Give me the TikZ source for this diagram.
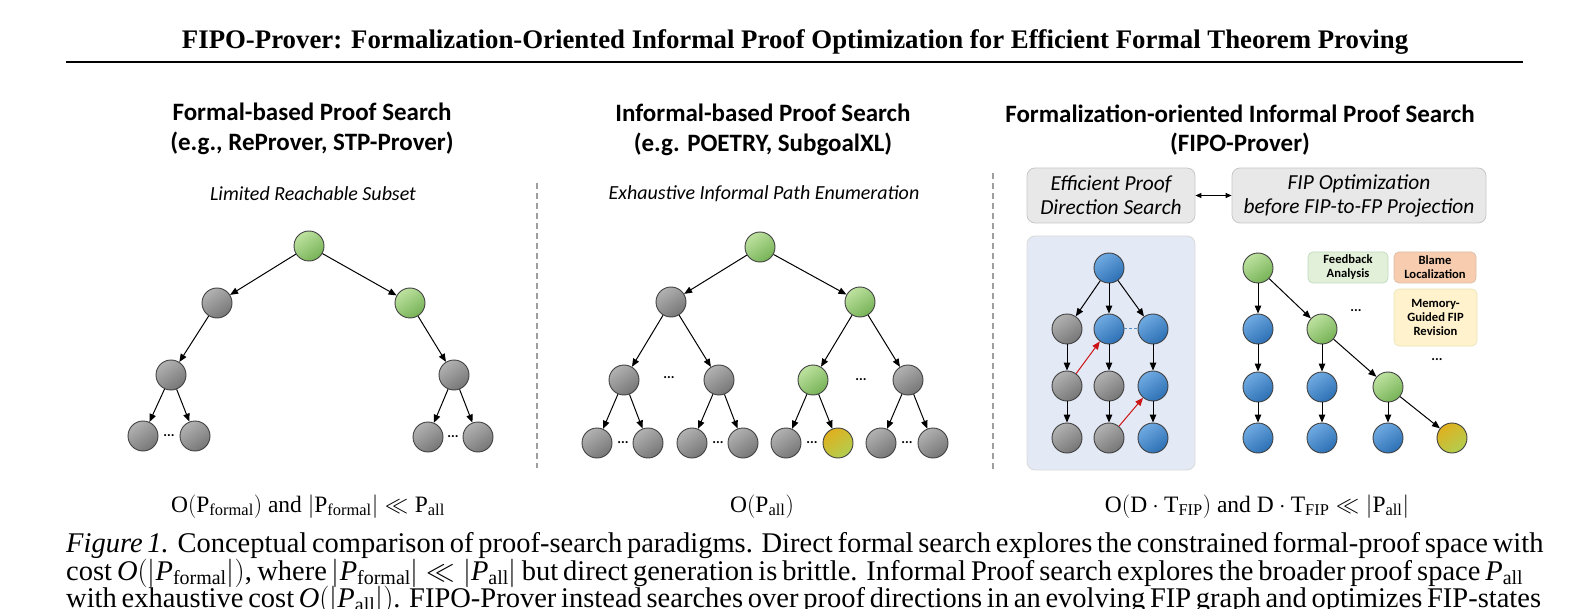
\RequirePackage{fix-cm}
\documentclass[tikz,border=0pt]{standalone}
\usepackage{fontspec}
\setmainfont{Liberation Serif}
\newfontfamily\calibri{Carlito}
\usetikzlibrary{arrows.meta,positioning,calc}
\definecolor{graytop}{RGB}{178,178,178}
\definecolor{graybot}{RGB}{118,118,118}
\definecolor{greentop}{RGB}{190,226,160}
\definecolor{greenbot}{RGB}{118,178,86}
\definecolor{bluetop}{RGB}{112,170,226}
\definecolor{bluebot}{RGB}{44,112,180}
\definecolor{goldtop}{RGB}{224,176,30}
\definecolor{goldbot}{RGB}{178,206,80}
\definecolor{panelblue}{RGB}{228,233,246}
\definecolor{boxgray}{RGB}{232,232,232}
\definecolor{feedgreen}{RGB}{226,240,218}
\definecolor{blameorange}{RGB}{248,204,174}
\definecolor{memoryyellow}{RGB}{255,242,204}
\definecolor{redarrow}{RGB}{204,20,20}

\begin{document}
\begin{tikzpicture}[x=1pt,y=-1pt,
    state/.style={circle,minimum size=30pt,inner sep=0pt,draw=black!75,line width=0.9pt,shading angle=35},
    graystate/.style={state,top color=graytop,bottom color=graybot,shading angle=35},
    greenstate/.style={state,top color=greentop,bottom color=greenbot,shading angle=35},
    bluestate/.style={state,top color=bluetop,bottom color=bluebot,shading angle=35},
    goldstate/.style={state,top color=goldtop,bottom color=goldbot,shading angle=35},
    edge/.style={-{Triangle[length=8pt,width=6.5pt]},line width=1pt,black},
    jump/.style={-{Triangle[length=8pt,width=6.5pt]},line width=1pt,redarrow},
    dots/.style={font=\calibri\bfseries\fontsize{14}{14}\selectfont,inner sep=0pt},
    paneltitle/.style={font=\calibri\bfseries\fontsize{25}{29.5}\selectfont,align=center},
    panelnote/.style={font=\calibri\itshape\fontsize{20}{20}\selectfont},
    headbox/.style={draw=black!22,fill=boxgray,rounded corners=8pt,line width=0.8pt,
      align=center,font=\calibri\itshape\fontsize{21.4}{24}\selectfont,inner sep=0pt},
    tagbox/.style={rounded corners=5pt,line width=0.7pt,align=center,
      font=\calibri\bfseries\fontsize{12.6}{14}\selectfont,inner sep=0pt},
    cost/.style={font=\fontsize{23.5}{26}\selectfont,anchor=base},
    capline/.style={anchor=base west,inner sep=0pt,font=\fontsize{28.5}{28}\selectfont},
    separator/.style={gray!75,line width=1.6pt,dash pattern=on 6pt off 4pt}
  ]
  \useasboundingbox (0,0) rectangle (1581,609);

  % Running title
  \node[font=\bfseries\fontsize{26.8}{30}\selectfont] (runtitle) at (795,42)
    {FIPO-Prover: Formalization-Oriented Informal Proof Optimization for Efficient Formal Theorem Proving};
  \draw[line width=2.5pt] (66,62) -- (1523,62);

  % Panel titles
  \node[paneltitle] (ftitle) at (312,129) {Formal-based Proof Search\\(e.g., ReProver, STP-Prover)};
  \node[paneltitle] (ititle) at (763,130) {Informal-based Proof Search\\(e.g. POETRY, SubgoalXL)};
  \node[paneltitle] (ptitle) at (1240,130) {Formalization-oriented Informal Proof Search\\(FIPO-Prover)};
  \node[panelnote] (fnote) at (313,194) {Limited Reachable Subset};
  \node[panelnote] (inote) at (764,194) {Exhaustive Informal Path Enumeration};

  % Separators
  \draw[separator] (537,183) -- (537,468);
  \draw[separator] (993,173) -- (993,470);

  % Formal-based tree
  \node[greenstate] (fa)  at (309,246) {};
  \node[graystate]  (fb1) at (217,303) {};
  \node[greenstate] (fb2) at (410,303) {};
  \node[graystate]  (fc1) at (171,375) {};
  \node[graystate]  (fc2) at (454,375) {};
  \node[graystate]  (fd1) at (143,436) {};
  \node[graystate]  (fd2) at (195,436) {};
  \node[graystate]  (fd3) at (428,437) {};
  \node[graystate]  (fd4) at (478,437) {};
  \node[dots] (fdots1) at (169,436) {...};
  \node[dots] (fdots2) at (453,437) {...};
  \draw[edge] (fa) -- (fb1);
  \draw[edge] (fa) -- (fb2);
  \draw[edge] (fb1) -- (fc1);
  \draw[edge] (fb2) -- (fc2);
  \draw[edge] (fc1) -- (fd1);
  \draw[edge] (fc1) -- (fd2);
  \draw[edge] (fc2) -- (fd3);
  \draw[edge] (fc2) -- (fd4);

  % Informal-based tree
  \node[greenstate] (ia)  at (760,247) {};
  \node[graystate]  (ib1) at (671,302) {};
  \node[greenstate] (ib2) at (860,302) {};
  \node[graystate]  (ic1) at (624,380) {};
  \node[graystate]  (ic2) at (719,380) {};
  \node[greenstate] (ic3) at (813,380) {};
  \node[graystate]  (ic4) at (908,380) {};
  \node[graystate]  (id1) at (597,443) {};
  \node[graystate]  (id2) at (648,443) {};
  \node[graystate]  (id3) at (692,443) {};
  \node[graystate]  (id4) at (743,443) {};
  \node[graystate]  (id5) at (786,443) {};
  \node[goldstate]  (id6) at (838,443) {};
  \node[graystate]  (id7) at (881,443) {};
  \node[graystate]  (id8) at (933,443) {};
  \node[dots] (idots1) at (669,378) {...};
  \node[dots] (idots2) at (861,380) {...};
  \node[dots] (idots3) at (623,443) {...};
  \node[dots] (idots4) at (718,443) {...};
  \node[dots] (idots5) at (812,443) {...};
  \node[dots] (idots6) at (907,443) {...};
  \draw[edge] (ia) -- (ib1);
  \draw[edge] (ia) -- (ib2);
  \draw[edge] (ib1) -- (ic1);
  \draw[edge] (ib1) -- (ic2);
  \draw[edge] (ib2) -- (ic3);
  \draw[edge] (ib2) -- (ic4);
  \draw[edge] (ic1) -- (id1);
  \draw[edge] (ic1) -- (id2);
  \draw[edge] (ic2) -- (id3);
  \draw[edge] (ic2) -- (id4);
  \draw[edge] (ic3) -- (id5);
  \draw[edge] (ic3) -- (id6);
  \draw[edge] (ic4) -- (id7);
  \draw[edge] (ic4) -- (id8);

  % FIPO-Prover: head boxes
  \node[headbox,minimum width=168pt,minimum height=55pt] (dirbox) at (1111,195.5)
    {Efficient Proof\\Direction Search};
  \node[headbox,minimum width=254pt,minimum height=55pt] (optbox) at (1359,195.5)
    {FIP Optimization\\before FIP-to-FP Projection};
  \draw[{Triangle[length=6pt,width=5pt]}-{Triangle[length=6pt,width=5pt]},line width=1pt]
    (dirbox) -- (optbox);

  % Direction search panel
  \node[draw=black!15,fill=panelblue,rounded corners=8pt,line width=0.8pt,
    minimum width=168pt,minimum height=234pt] (dirpanel) at (1111,353) {};
  \node[bluestate] (pa)  at (1109,268) {};
  \node[graystate] (pb1) at (1067,329) {};
  \node[bluestate] (pb2) at (1109,329) {};
  \node[bluestate] (pb3) at (1153,329) {};
  \node[graystate] (pc1) at (1067,386) {};
  \node[graystate] (pc2) at (1109,386) {};
  \node[bluestate] (pc3) at (1153,386) {};
  \node[graystate] (pd1) at (1067,438) {};
  \node[graystate] (pd2) at (1109,438) {};
  \node[bluestate] (pd3) at (1153,438) {};
  \draw[edge] (pa) -- (pb1);
  \draw[edge] (pa) -- (pb2);
  \draw[edge] (pa) -- (pb3);
  \draw[edge] (pb1) -- (pc1);
  \draw[edge] (pc1) -- (pd1);
  \draw[edge] (pb2) -- (pc2);
  \draw[edge] (pc2) -- (pd2);
  \draw[edge] (pb3) -- (pc3);
  \draw[edge] (pc3) -- (pd3);
  \draw[bluebot!80,line width=1pt,dash pattern=on 3pt off 2pt] (pb2) -- (pb3);
  \draw[jump] (pc1) -- (pb2);
  \draw[jump] (pd2) -- (pc3);

  % FIP optimization tree
  \node[greenstate] (qa)  at (1258,268) {};
  \node[bluestate]  (qb1) at (1258,329) {};
  \node[greenstate] (qb2) at (1322,329) {};
  \node[bluestate]  (qc1) at (1258,387) {};
  \node[bluestate]  (qc2) at (1322,387) {};
  \node[greenstate] (qc3) at (1388,387) {};
  \node[bluestate]  (qd1) at (1258,438) {};
  \node[bluestate]  (qd2) at (1322,438) {};
  \node[bluestate]  (qd3) at (1388,438) {};
  \node[goldstate]  (qd4) at (1452,438) {};
  \node[dots] (qdots1) at (1356,311) {...};
  \node[dots] (qdots2) at (1437,360) {...};
  \draw[edge] (qa) -- (qb1);
  \draw[edge] (qa) -- (qb2);
  \draw[edge] (qb1) -- (qc1);
  \draw[edge] (qc1) -- (qd1);
  \draw[edge] (qb2) -- (qc2);
  \draw[edge] (qc2) -- (qd2);
  \draw[edge] (qb2) -- (qc3);
  \draw[edge] (qc3) -- (qd3);
  \draw[edge] (qc3) -- (qd4);

  % Optimization tags
  \node[tagbox,draw=green!25!gray!40,fill=feedgreen,minimum width=80pt,minimum height=31pt]
    (feedback) at (1348,267.5) {Feedback\\Analysis};
  \node[tagbox,draw=orange!40!gray!50,fill=blameorange,minimum width=82pt,minimum height=31pt]
    (blame) at (1435,267.5) {Blame\\Localization};
  \node[tagbox,draw=yellow!50!gray!40,fill=memoryyellow,minimum width=83pt,minimum height=57pt]
    (memory) at (1435.5,317.5) {Memory-\\Guided FIP\\Revision};

  % Costs
  \node[cost] (fcost) at (308,512)
    {O$(\mathrm{P}_{\mathrm{formal}})$ and $|\mathrm{P}_{\mathrm{formal}}| \ll \mathrm{P}_{\mathrm{all}}$};
  \node[cost] (icost) at (762,512) {O$(\mathrm{P}_{\mathrm{all}})$};
  \node[cost] (pcost) at (1257,512)
    {O$(\mathrm{D}\cdot\mathrm{T}_{\mathrm{FIP}})$ and $\mathrm{D}\cdot\mathrm{T}_{\mathrm{FIP}} \ll |\mathrm{P}_{\mathrm{all}}|$};

  % Caption
  \node[capline] (cap1) at (66,552.5) {\makebox[1457pt][s]{\textit{Figure 1.} Conceptual comparison of proof-search paradigms. Direct formal search explores the constrained formal-proof space with}};
  \node[capline] (cap2) at (66,580) {\makebox[1457pt][s]{cost $\mathit{O}(|\mathit{P}_{\mathrm{formal}}|)$, where $|\mathit{P}_{\mathrm{formal}}| \ll |\mathit{P}_{\mathrm{all}}|$ but direct generation is brittle. Informal Proof search explores the broader proof space $\mathit{P}_{\mathrm{all}}$}};
  \node[capline] (cap3) at (66,607.5) {\makebox[1457pt][s]{with exhaustive cost $\mathit{O}(|\mathit{P}_{\mathrm{all}}|)$. FIPO-Prover instead searches over proof directions in an evolving FIP graph and optimizes FIP-states}};
\end{tikzpicture}
\end{document}
